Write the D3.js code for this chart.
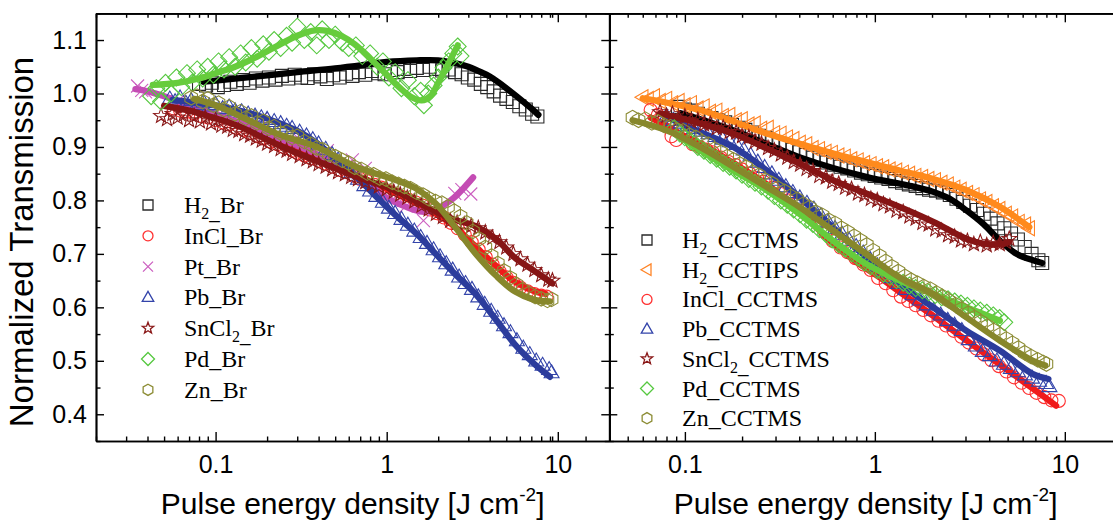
<!DOCTYPE html>
<html><head><meta charset="utf-8">
<script src="https://cdn.jsdelivr.net/npm/d3@7"></script>
<style>body{margin:0;background:#fff}svg{display:block}</style>
</head><body>
<svg id="c" width="1113" height="529"></svg>
<script>
// ---------- axis / tick data ----------
const xMajorTicks = [0.1, 1, 10];
const xMinorTicks = [0.02,0.03,0.04,0.05,0.06,0.07,0.08,0.09,0.2,0.3,0.4,0.5,0.6,0.7,0.8,0.9,2,3,4,5,6,7,8,9,20];
const yMajorTicks = [0.4,0.5,0.6,0.7,0.8,0.9,1.0,1.1];
const yMinorTicks = [0.35,0.45,0.55,0.65,0.75,0.85,0.95,1.05,1.15];
const xTitle = "Pulse energy density [J cm";
const yTitle = "Normalized Transmission";

// ---------- left panel (Br) ----------
const h2BrPts = [[0.080,1.018],[0.088,1.015],[0.095,1.020],[0.103,1.012],[0.112,1.016],[0.122,1.022],[0.133,1.018],[0.145,1.025],[0.158,1.020],[0.172,1.028],[0.188,1.024],[0.205,1.030],[0.224,1.026],[0.244,1.033],[0.266,1.028],[0.29,1.035],[0.316,1.030],[0.345,1.029],[0.376,1.036],[0.41,1.032],[0.447,1.027],[0.487,1.034],[0.531,1.030],[0.579,1.037],[0.631,1.033],[0.688,1.040],[0.75,1.035],[0.818,1.042],[0.892,1.038],[0.972,1.036],[1.06,1.044],[1.16,1.040],[1.26,1.046],[1.37,1.042],[1.5,1.048],[1.63,1.044],[1.78,1.050],[1.94,1.046],[2.11,1.043],[2.3,1.045],[2.51,1.040],[2.74,1.036],[2.98,1.030],[3.25,1.026],[3.55,1.018],[3.87,1.012],[4.22,1.004],[4.6,0.996],[5.01,0.990],[5.46,0.984],[5.96,0.976],[6.5,0.970],[7.08,0.962],[7.6,0.957]];
const h2BrFit = [[0.085,1.022],[0.1,1.024],[0.13,1.028],[0.2,1.034],[0.3,1.040],[0.5,1.047],[0.8,1.055],[1.0,1.059],[1.5,1.062],[2.0,1.062],[2.5,1.057],[3.0,1.050],[3.5,1.041],[4.0,1.032],[4.5,1.021],[5.0,1.010],[6.0,0.990],[7.0,0.972],[7.7,0.960]];

const inclBrPts = [[0.057,0.972],[0.062,0.968],[0.068,0.966],[0.075,0.962],[0.082,0.958],[0.09,0.955],[0.1,0.950],[0.11,0.946],[0.12,0.942],[0.132,0.936],[0.145,0.932],[0.16,0.926],[0.175,0.920],[0.19,0.916],[0.21,0.910],[0.23,0.905],[0.25,0.900],[0.28,0.893],[0.3,0.889],[0.33,0.884],[0.36,0.879],[0.4,0.874],[0.44,0.869],[0.48,0.863],[0.53,0.857],[0.58,0.853],[0.64,0.846],[0.7,0.840],[0.77,0.836],[0.85,0.829],[0.93,0.824],[1.02,0.818],[1.12,0.812],[1.23,0.807],[1.35,0.801],[1.48,0.796],[1.63,0.790],[1.79,0.783],[1.97,0.776],[2.16,0.768],[2.37,0.758],[2.6,0.748],[2.86,0.736],[3.14,0.722],[3.45,0.708],[3.79,0.694],[4.16,0.680],[4.57,0.667],[5.02,0.656],[5.51,0.646],[6.05,0.637],[6.65,0.630],[7.3,0.625],[8.0,0.622],[8.6,0.620]];
const inclBrFit = [[0.055,0.975],[0.08,0.966],[0.134,0.944],[0.228,0.913],[0.389,0.882],[0.66,0.848],[1.13,0.813],[1.92,0.776],[2.5,0.751],[3.3,0.714],[4.4,0.676],[5.6,0.648],[7.3,0.630],[8.5,0.625]];

const ptBrPts = [[0.035,1.014],[0.037,1.006],[0.039,1.003],[0.06,0.985],[0.09,0.970],[0.185,0.953],[0.3,0.918],[0.45,0.893],[0.63,0.876],[0.75,0.860],[1.07,0.800],[1.3,0.790],[1.64,0.762],[2.5,0.813],[2.75,0.820],[3.1,0.812]];
const ptBrFit = [[0.034,1.008],[0.04,1.004],[0.05,0.995],[0.07,0.978],[0.1,0.962],[0.2,0.925],[0.4,0.885],[0.7,0.843],[1.0,0.805],[1.3,0.788],[1.6,0.779],[1.9,0.782],[2.2,0.793],[2.5,0.806],[2.8,0.822],[3.2,0.843]];

const pbBrPts = [[0.054,0.990],[0.058,0.985],[0.062,0.992],[0.067,0.982],[0.072,0.987],[0.078,0.980],[0.085,0.984],[0.092,0.977],[0.1,0.980],[0.11,0.972],[0.12,0.975],[0.13,0.968],[0.142,0.966],[0.155,0.962],[0.17,0.958],[0.185,0.955],[0.2,0.952],[0.22,0.948],[0.24,0.944],[0.26,0.939],[0.28,0.935],[0.31,0.928],[0.34,0.921],[0.37,0.914],[0.4,0.906],[0.44,0.896],[0.48,0.886],[0.52,0.876],[0.57,0.864],[0.62,0.852],[0.68,0.840],[0.74,0.828],[0.8,0.818],[0.87,0.808],[0.95,0.797],[1.03,0.786],[1.12,0.776],[1.22,0.765],[1.33,0.754],[1.45,0.743],[1.58,0.731],[1.72,0.720],[1.88,0.708],[2.05,0.695],[2.23,0.682],[2.43,0.670],[2.65,0.657],[2.89,0.645],[3.15,0.634],[3.43,0.620],[3.74,0.606],[4.08,0.593],[4.45,0.580],[4.85,0.566],[5.29,0.553],[5.77,0.538],[6.29,0.524],[6.86,0.512],[7.48,0.500],[8.15,0.492],[8.9,0.484],[9.2,0.478]];
const pbBrFit = [[0.056,0.988],[0.08,0.982],[0.1,0.978],[0.134,0.969],[0.2,0.953],[0.3,0.930],[0.4,0.905],[0.5,0.878],[0.66,0.845],[0.87,0.807],[1.13,0.772],[1.5,0.737],[1.92,0.701],[2.5,0.663],[3.3,0.625],[4.4,0.575],[5.6,0.531],[7.3,0.494],[9.0,0.470]];

const snBrPts = [[0.048,0.958],[0.052,0.952],[0.056,0.962],[0.06,0.955],[0.065,0.960],[0.07,0.950],[0.075,0.958],[0.081,0.948],[0.087,0.955],[0.094,0.944],[0.1,0.950],[0.108,0.940],[0.117,0.938],[0.126,0.932],[0.136,0.930],[0.147,0.924],[0.159,0.921],[0.172,0.916],[0.186,0.912],[0.2,0.906],[0.22,0.902],[0.24,0.896],[0.26,0.893],[0.28,0.887],[0.31,0.883],[0.34,0.877],[0.37,0.873],[0.4,0.868],[0.44,0.863],[0.48,0.858],[0.52,0.853],[0.57,0.849],[0.62,0.844],[0.68,0.840],[0.75,0.834],[0.82,0.830],[0.9,0.826],[1.0,0.821],[1.1,0.816],[1.2,0.811],[1.32,0.805],[1.45,0.798],[1.6,0.790],[1.76,0.783],[1.94,0.775],[2.13,0.769],[2.35,0.762],[2.58,0.758],[2.84,0.755],[3.12,0.752],[3.43,0.748],[3.77,0.740],[4.15,0.730],[4.56,0.722],[5.0,0.712],[5.5,0.700],[6.05,0.690],[6.65,0.680],[7.3,0.670],[8.0,0.660],[8.8,0.652],[9.3,0.650]];
const snBrFit = [[0.05,0.977],[0.07,0.968],[0.09,0.958],[0.134,0.940],[0.228,0.905],[0.389,0.874],[0.66,0.845],[1.13,0.818],[1.92,0.780],[2.5,0.764],[3.3,0.752],[4.4,0.727],[5.6,0.693],[7.3,0.668],[9.3,0.645]];

const pdBrPts = [[0.042,0.995],[0.045,1.010],[0.048,0.985],[0.051,1.020],[0.055,1.000],[0.059,1.030],[0.063,1.012],[0.068,1.038],[0.073,1.020],[0.078,1.045],[0.084,1.028],[0.09,1.050],[0.097,1.035],[0.104,1.060],[0.112,1.045],[0.12,1.068],[0.13,1.050],[0.14,1.075],[0.15,1.058],[0.162,1.085],[0.175,1.065],[0.19,1.092],[0.205,1.078],[0.22,1.100],[0.24,1.085],[0.26,1.108],[0.28,1.095],[0.3,1.125],[0.33,1.100],[0.36,1.115],[0.39,1.090],[0.42,1.120],[0.46,1.100],[0.5,1.110],[0.55,1.095],[0.6,1.085],[0.66,1.090],[0.72,1.070],[0.8,1.075],[0.88,1.050],[0.95,1.060],[1.03,1.030],[1.12,1.040],[1.22,1.010],[1.33,1.025],[1.45,0.995],[1.58,1.005],[1.65,0.978],[1.75,1.000],[1.88,1.015],[2.0,1.030],[2.15,1.048],[2.3,1.060],[2.45,1.075],[2.6,1.088],[2.7,1.070]];
const pdBrFit = [[0.043,1.016],[0.06,1.020],[0.08,1.028],[0.1,1.038],[0.13,1.050],[0.17,1.067],[0.22,1.086],[0.3,1.108],[0.38,1.118],[0.45,1.117],[0.55,1.107],[0.65,1.092],[0.8,1.066],[1.0,1.035],[1.2,1.010],[1.4,0.993],[1.6,0.987],[1.8,0.995],[2.0,1.020],[2.2,1.045],[2.4,1.068],[2.6,1.090]];

const znBrPts = [[0.072,0.992],[0.078,0.995],[0.084,0.985],[0.09,0.990],[0.097,0.978],[0.104,0.982],[0.112,0.970],[0.12,0.975],[0.13,0.962],[0.14,0.966],[0.15,0.954],[0.162,0.958],[0.175,0.945],[0.19,0.948],[0.205,0.935],[0.22,0.938],[0.24,0.926],[0.26,0.928],[0.28,0.918],[0.3,0.920],[0.33,0.910],[0.36,0.905],[0.39,0.898],[0.42,0.895],[0.46,0.886],[0.5,0.882],[0.55,0.875],[0.6,0.870],[0.65,0.862],[0.71,0.858],[0.77,0.851],[0.84,0.848],[0.91,0.842],[0.99,0.840],[1.08,0.834],[1.17,0.830],[1.27,0.826],[1.38,0.822],[1.5,0.815],[1.63,0.810],[1.77,0.803],[1.93,0.798],[2.1,0.795],[2.28,0.788],[2.48,0.780],[2.7,0.770],[2.93,0.758],[3.19,0.742],[3.47,0.728],[3.77,0.712],[4.1,0.696],[4.46,0.682],[4.85,0.668],[5.27,0.655],[5.73,0.643],[6.23,0.633],[6.78,0.626],[7.37,0.620],[8.0,0.616],[8.7,0.613],[9.2,0.615]];
const znBrFit = [[0.075,0.990],[0.1,0.978],[0.134,0.960],[0.228,0.925],[0.389,0.900],[0.66,0.863],[1.13,0.838],[1.47,0.823],[1.92,0.795],[2.5,0.751],[3.3,0.701],[4.4,0.658],[5.6,0.630],[7.3,0.614],[9.0,0.611]];

// ---------- right panel (CCTMS) ----------
const h2CctmsPts = [[0.092,0.975],[0.1,0.970],[0.108,0.968],[0.117,0.962],[0.127,0.958],[0.138,0.954],[0.15,0.950],[0.163,0.946],[0.177,0.941],[0.192,0.936],[0.208,0.932],[0.226,0.927],[0.245,0.921],[0.266,0.917],[0.289,0.911],[0.314,0.906],[0.341,0.901],[0.37,0.895],[0.402,0.890],[0.436,0.885],[0.474,0.880],[0.515,0.876],[0.559,0.871],[0.607,0.867],[0.66,0.863],[0.716,0.860],[0.778,0.856],[0.845,0.852],[0.918,0.849],[0.997,0.846],[1.08,0.843],[1.18,0.840],[1.28,0.836],[1.39,0.833],[1.51,0.830],[1.64,0.827],[1.78,0.823],[1.93,0.820],[2.1,0.818],[2.28,0.815],[2.48,0.810],[2.69,0.803],[2.92,0.797],[3.17,0.790],[3.45,0.782],[3.74,0.775],[4.07,0.766],[4.42,0.757],[4.8,0.748],[5.21,0.738],[5.66,0.727],[6.15,0.713],[6.68,0.700],[7.26,0.688],[7.6,0.683]];
const h2CctmsFit = [[0.095,0.963],[0.18,0.931],[0.4,0.881],[0.9,0.844],[1.5,0.828],[2.03,0.816],[2.48,0.803],[3.04,0.781],[3.72,0.756],[4.55,0.725],[5.57,0.700],[6.8,0.688],[7.6,0.683]];

const h2CctipsPts = [[0.06,0.993],[0.064,0.990],[0.069,0.995],[0.074,0.986],[0.08,0.990],[0.086,0.982],[0.093,0.986],[0.1,0.978],[0.108,0.982],[0.117,0.972],[0.126,0.976],[0.136,0.966],[0.147,0.968],[0.159,0.958],[0.172,0.960],[0.186,0.950],[0.2,0.952],[0.217,0.942],[0.234,0.944],[0.253,0.934],[0.274,0.936],[0.296,0.926],[0.32,0.925],[0.346,0.918],[0.374,0.915],[0.404,0.908],[0.437,0.905],[0.472,0.898],[0.51,0.896],[0.552,0.891],[0.596,0.889],[0.645,0.884],[0.697,0.882],[0.754,0.877],[0.815,0.875],[0.881,0.870],[0.953,0.868],[1.03,0.864],[1.11,0.862],[1.2,0.858],[1.3,0.856],[1.41,0.852],[1.52,0.850],[1.64,0.846],[1.78,0.844],[1.92,0.840],[2.08,0.838],[2.25,0.833],[2.43,0.830],[2.63,0.824],[2.84,0.820],[3.07,0.814],[3.32,0.810],[3.59,0.802],[3.88,0.797],[4.2,0.789],[4.54,0.784],[4.91,0.775],[5.3,0.770],[5.74,0.760],[6.2,0.755],[6.5,0.748]];
const h2CctipsFit = [[0.06,0.991],[0.12,0.969],[0.27,0.925],[0.6,0.888],[1.35,0.856],[2.03,0.840],[3.04,0.819],[4.55,0.788],[6.5,0.750]];

const inclCctmsPts = [[0.066,0.969],[0.072,0.960],[0.078,0.950],[0.085,0.920],[0.09,0.913],[0.1,0.920],[0.11,0.905],[0.12,0.900],[0.13,0.895],[0.14,0.890],[0.155,0.880],[0.17,0.872],[0.185,0.866],[0.2,0.858],[0.22,0.850],[0.24,0.842],[0.26,0.835],[0.29,0.824],[0.32,0.812],[0.35,0.800],[0.38,0.792],[0.42,0.780],[0.46,0.768],[0.5,0.757],[0.55,0.740],[0.6,0.724],[0.66,0.712],[0.72,0.703],[0.79,0.692],[0.87,0.680],[0.95,0.670],[1.04,0.655],[1.14,0.645],[1.25,0.632],[1.37,0.620],[1.5,0.612],[1.64,0.604],[1.8,0.595],[1.97,0.585],[2.16,0.575],[2.37,0.566],[2.6,0.556],[2.85,0.545],[3.12,0.534],[3.42,0.523],[3.75,0.512],[4.11,0.501],[4.5,0.490],[4.93,0.480],[5.4,0.469],[5.92,0.459],[6.49,0.449],[7.1,0.440],[7.8,0.432],[8.5,0.426],[9.3,0.425]];
const inclCctmsFit = [[0.066,0.955],[0.08,0.940],[0.1,0.920],[0.13,0.900],[0.18,0.870],[0.27,0.830],[0.4,0.780],[0.6,0.720],[0.8,0.685],[1.06,0.656],[1.35,0.629],[2.03,0.584],[3.04,0.538],[4.55,0.493],[6.8,0.448],[9.0,0.416]];

const pbCctmsPts = [[0.08,0.958],[0.087,0.950],[0.095,0.945],[0.103,0.940],[0.112,0.935],[0.122,0.930],[0.133,0.925],[0.145,0.920],[0.158,0.915],[0.172,0.910],[0.187,0.905],[0.204,0.895],[0.222,0.885],[0.242,0.872],[0.263,0.862],[0.287,0.850],[0.312,0.838],[0.34,0.826],[0.37,0.815],[0.403,0.805],[0.439,0.795],[0.478,0.784],[0.52,0.772],[0.567,0.760],[0.617,0.748],[0.672,0.737],[0.732,0.726],[0.797,0.714],[0.868,0.702],[0.945,0.690],[1.03,0.678],[1.12,0.667],[1.22,0.656],[1.33,0.645],[1.45,0.634],[1.58,0.624],[1.72,0.614],[1.87,0.605],[2.04,0.595],[2.22,0.586],[2.42,0.576],[2.63,0.567],[2.87,0.557],[3.12,0.540],[3.4,0.528],[3.7,0.518],[4.03,0.510],[4.39,0.500],[4.78,0.494],[5.2,0.486],[5.67,0.480],[6.17,0.474],[6.72,0.468],[7.32,0.462],[7.97,0.458],[8.3,0.452]];
const pbCctmsFit = [[0.08,0.956],[0.12,0.928],[0.18,0.900],[0.27,0.856],[0.4,0.806],[0.6,0.750],[0.9,0.694],[1.35,0.644],[2.03,0.600],[3.04,0.556],[4.55,0.519],[6.8,0.475],[8.2,0.466]];

const snCctmsPts = [[0.074,0.965],[0.08,0.958],[0.086,0.962],[0.093,0.953],[0.1,0.957],[0.108,0.948],[0.117,0.950],[0.126,0.942],[0.136,0.943],[0.147,0.935],[0.159,0.936],[0.172,0.928],[0.186,0.927],[0.2,0.920],[0.217,0.918],[0.234,0.910],[0.253,0.906],[0.274,0.898],[0.296,0.893],[0.32,0.886],[0.346,0.880],[0.374,0.872],[0.404,0.867],[0.437,0.859],[0.472,0.855],[0.51,0.846],[0.552,0.843],[0.596,0.835],[0.645,0.831],[0.697,0.824],[0.754,0.821],[0.815,0.813],[0.881,0.810],[0.953,0.803],[1.03,0.800],[1.11,0.793],[1.2,0.789],[1.3,0.781],[1.41,0.778],[1.52,0.770],[1.64,0.766],[1.78,0.758],[1.92,0.755],[2.08,0.746],[2.25,0.743],[2.43,0.735],[2.63,0.732],[2.84,0.725],[3.07,0.724],[3.32,0.718],[3.59,0.722],[3.88,0.716],[4.2,0.720],[4.54,0.718],[4.9,0.722],[5.1,0.728]];
const snCctmsFit = [[0.074,0.963],[0.12,0.944],[0.18,0.925],[0.27,0.897],[0.4,0.869],[0.6,0.838],[0.9,0.813],[1.35,0.788],[2.03,0.760],[3.04,0.728],[3.72,0.719],[4.55,0.718],[5.1,0.722]];

const pdCctmsPts = [[0.088,0.935],[0.094,0.925],[0.1,0.918],[0.108,0.910],[0.117,0.900],[0.126,0.893],[0.136,0.885],[0.147,0.878],[0.159,0.870],[0.172,0.863],[0.186,0.856],[0.2,0.848],[0.217,0.840],[0.234,0.833],[0.253,0.826],[0.274,0.818],[0.296,0.808],[0.32,0.800],[0.346,0.792],[0.374,0.783],[0.404,0.774],[0.437,0.764],[0.472,0.756],[0.51,0.746],[0.552,0.737],[0.596,0.727],[0.645,0.718],[0.697,0.710],[0.754,0.701],[0.815,0.693],[0.881,0.684],[0.953,0.677],[1.03,0.670],[1.11,0.663],[1.2,0.657],[1.3,0.651],[1.41,0.646],[1.52,0.641],[1.64,0.636],[1.78,0.632],[1.92,0.628],[2.08,0.623],[2.25,0.619],[2.43,0.615],[2.63,0.611],[2.84,0.607],[3.07,0.603],[3.32,0.598],[3.59,0.594],[3.88,0.590],[4.2,0.585],[4.54,0.580],[4.8,0.572]];
const pdCctmsFit = [[0.09,0.925],[0.12,0.894],[0.18,0.856],[0.27,0.819],[0.4,0.775],[0.6,0.725],[0.9,0.681],[1.35,0.650],[2.03,0.625],[3.04,0.600],[4.55,0.575]];

const znCctmsPts = [[0.053,0.955],[0.057,0.950],[0.062,0.952],[0.067,0.945],[0.072,0.947],[0.078,0.940],[0.084,0.938],[0.091,0.932],[0.098,0.930],[0.106,0.922],[0.114,0.918],[0.123,0.910],[0.133,0.905],[0.143,0.896],[0.155,0.890],[0.167,0.882],[0.18,0.876],[0.195,0.868],[0.21,0.862],[0.227,0.853],[0.245,0.847],[0.265,0.838],[0.286,0.832],[0.309,0.823],[0.334,0.817],[0.36,0.808],[0.389,0.802],[0.42,0.793],[0.454,0.787],[0.49,0.778],[0.53,0.772],[0.572,0.763],[0.618,0.757],[0.667,0.748],[0.72,0.741],[0.778,0.733],[0.84,0.725],[0.907,0.717],[0.98,0.706],[1.06,0.696],[1.14,0.686],[1.23,0.676],[1.33,0.667],[1.44,0.658],[1.55,0.651],[1.68,0.645],[1.81,0.639],[1.96,0.634],[2.11,0.627],[2.28,0.620],[2.46,0.612],[2.66,0.605],[2.87,0.597],[3.1,0.589],[3.35,0.581],[3.62,0.573],[3.91,0.565],[4.22,0.557],[4.56,0.549],[4.92,0.541],[5.3,0.533],[5.7,0.524],[6.15,0.515],[6.65,0.508],[7.2,0.502],[7.7,0.497],[8.0,0.494]];
const znCctmsFit = [[0.053,0.950],[0.08,0.931],[0.12,0.900],[0.18,0.863],[0.27,0.825],[0.4,0.788],[0.6,0.744],[0.9,0.700],[1.35,0.656],[2.03,0.625],[3.04,0.581],[4.55,0.538],[6.8,0.500],[7.9,0.491]];

// ---------- series definitions ----------
const leftSeries = [
  {name:"H", sub:"2", rest:"Br", shape:"square", color:"#2a2a2a", line:"#000000", pts:h2BrPts, fit:h2BrFit},
  {name:"InCl_Br", shape:"circle", color:"#ff3030", line:"#f01a1a", pts:inclBrPts, fit:inclBrFit},
  {name:"Pt_Br", shape:"x", color:"#cc5fc0", line:"#c44cb4", pts:ptBrPts, fit:ptBrFit},
  {name:"Pb_Br", shape:"triUp", color:"#3344aa", line:"#2c3c9c", pts:pbBrPts, fit:pbBrFit},
  {name:"SnCl", sub:"2", rest:"Br", shape:"star", color:"#8b1a1a", line:"#861515", pts:snBrPts, fit:snBrFit},
  {name:"Pd_Br", shape:"diamond", color:"#55c83f", line:"#66cc3c", pts:pdBrPts, fit:pdBrFit},
  {name:"Zn_Br", shape:"hex", color:"#8c8c34", line:"#87872b", pts:znBrPts, fit:znBrFit}
];
const rightSeries = [
  {name:"H", sub:"2", rest:"CCTMS", shape:"square", color:"#2a2a2a", line:"#000000", pts:h2CctmsPts, fit:h2CctmsFit},
  {name:"H", sub:"2", rest:"CCTIPS", shape:"triLeft", color:"#ff8426", line:"#ff8a1c", pts:h2CctipsPts, fit:h2CctipsFit},
  {name:"InCl_CCTMS", shape:"circle", color:"#ff3030", line:"#f01a1a", pts:inclCctmsPts, fit:inclCctmsFit},
  {name:"Pb_CCTMS", shape:"triUp", color:"#3344aa", line:"#2c3c9c", pts:pbCctmsPts, fit:pbCctmsFit},
  {name:"SnCl", sub:"2", rest:"CCTMS", shape:"star", color:"#8b1a1a", line:"#861515", pts:snCctmsPts, fit:snCctmsFit},
  {name:"Pd_CCTMS", shape:"diamond", color:"#55c83f", line:"#66cc3c", pts:pdCctmsPts, fit:pdCctmsFit},
  {name:"Zn_CCTMS", shape:"hex", color:"#8c8c34", line:"#87872b", pts:znCctmsPts, fit:znCctmsFit}
];

// ---------- layout ----------
const svg = d3.select("#c");
const plotTop = 13.3, plotBottom = 441;
const y = d3.scaleLinear().domain([0.35,1.15]).range([plotBottom, plotTop]);
const panels = [
  {x: d3.scaleLog().domain([0.02,20]).range([96,609.3]), series:leftSeries, labels:true,
   legend:{mx:148, tx:184, y0:205, dy:30.8}},
  {x: d3.scaleLog().domain([0.04,20]).range([609.3,1122]), series:rightSeries, labels:false,
   legend:{mx:647, tx:682, y0:240, dy:29.7}}
];

function markerPath(shape, r){
  switch(shape){
    case "square": return `M${-r},${-r}h${2*r}v${2*r}h${-2*r}Z`;
    case "circle": return `M${r},0A${r},${r},0,1,1,${-r},0A${r},${r},0,1,1,${r},0Z`;
    case "x": return `M${-r},${-r}L${r},${r}M${-r},${r}L${r},${-r}`;
    case "triUp": return `M0,${-r*1.2}L${r*1.15},${r*0.8}L${-r*1.15},${r*0.8}Z`;
    case "triLeft": return `M${-r*1.2},0L${r*0.8},${-r*1.15}L${r*0.8},${r*1.15}Z`;
    case "diamond": { const a=r*1.3; return `M0,${-a}L${a},0L0,${a}L${-a},0Z`; }
    case "hex": { let p=""; for(let i=0;i<6;i++){const t=Math.PI/3*i - Math.PI/2; p+=(i?"L":"M")+(r*1.12*Math.cos(t)).toFixed(2)+","+(r*1.12*Math.sin(t)).toFixed(2);} return p+"Z"; }
    case "star": { let p=""; for(let i=0;i<10;i++){const rr=i%2?r*0.5:r*1.2; const t=Math.PI/5*i - Math.PI/2; p+=(i?"L":"M")+(rr*Math.cos(t)).toFixed(2)+","+(rr*Math.sin(t)).toFixed(2);} return p+"Z"; }
  }
}

const fmtY = d3.format(".1f");
const fmtX = d => d >= 1 ? d3.format("d")(d) : String(d);

panels.forEach((P, pi) => {
  const x = P.x;
  const [x0, x1] = x.range();
  const g = svg.append("g");
  const clipId = "clip"+pi;
  svg.append("clipPath").attr("id", clipId).append("rect")
     .attr("x", x0).attr("y", plotTop).attr("width", x1-x0).attr("height", plotBottom-plotTop);
  const plot = g.append("g").attr("clip-path", `url(#${clipId})`);

  const line = d3.line().x(d => x(d[0])).y(d => y(d[1])).curve(d3.curveCatmullRom.alpha(0.5));
  P.series.forEach(s => {
    plot.append("g").selectAll("path").data(s.pts).join("path")
      .attr("transform", d => `translate(${x(d[0])},${y(d[1])})`)
      .attr("d", markerPath(s.shape, 6.5))
      .attr("fill", "none").attr("stroke", s.color).attr("stroke-width", 1.1);
    plot.append("path").datum(s.fit).attr("d", line)
      .attr("fill", "none").attr("stroke", s.line).attr("stroke-width", 6.3)
      .attr("stroke-linecap", "round").attr("stroke-linejoin", "round");
  });

  // axes
  const axG = g.append("g").attr("font-family", "'Liberation Sans', Arial, sans-serif");
  const mkAxis = (gen, tr, ticks, size, labels, fmt) => {
    const a = gen.tickValues(ticks).tickSize(-size).tickSizeOuter(0);
    if (labels) a.tickFormat(fmt); else a.tickFormat("");
    const sel = axG.append("g").attr("transform", tr).call(a);
    sel.select(".domain").attr("stroke-width", 1.7);
    sel.selectAll(".tick line").attr("stroke-width", 1.4);
    return sel;
  };
  const bx = mkAxis(d3.axisBottom(x).tickPadding(14), `translate(0,${plotBottom})`, xMajorTicks, 9, true, fmtX);
  bx.selectAll("text").attr("font-size", 25).attr("fill", "#000");
  mkAxis(d3.axisBottom(x), `translate(0,${plotBottom})`, xMinorTicks, 4.5, false);
  mkAxis(d3.axisTop(x), `translate(0,${plotTop})`, xMajorTicks, 9, false);
  mkAxis(d3.axisTop(x), `translate(0,${plotTop})`, xMinorTicks, 4.5, false);
  const ly = mkAxis(d3.axisLeft(y).tickPadding(9), `translate(${x0},0)`, yMajorTicks, 8, P.labels, fmtY);
  ly.selectAll("text").attr("font-size", 25).attr("fill", "#000");
  mkAxis(d3.axisLeft(y), `translate(${x0},0)`, yMinorTicks, 4.5, false);
  mkAxis(d3.axisRight(y), `translate(${x1},0)`, yMajorTicks, 8, false);
  mkAxis(d3.axisRight(y), `translate(${x1},0)`, yMinorTicks, 4.5, false);

  // x title
  const t = g.append("text").attr("x", (x0+x1)/2).attr("y", 514).attr("text-anchor", "middle")
    .attr("font-family", "'Liberation Sans', Arial, sans-serif").attr("font-size", 30).attr("fill", "#000");
  t.append("tspan").text(xTitle);
  t.append("tspan").attr("font-size", 19).attr("dy", -13).text("-2");
  t.append("tspan").attr("dy", 13).text("]");

  // legend
  const L = P.legend;
  P.series.forEach((s, i) => {
    const cy = L.y0 + i*L.dy;
    g.append("path").attr("transform", `translate(${L.mx},${cy})`)
      .attr("d", markerPath(s.shape, 5)).attr("fill", "none")
      .attr("stroke", s.color).attr("stroke-width", 1.3);
    const tx = g.append("text").attr("x", L.tx).attr("y", cy + 8)
      .attr("font-family", "'Liberation Serif', 'Times New Roman', serif").attr("font-size", 24).attr("fill", "#000");
    tx.append("tspan").text(s.name);
    if (s.sub) {
      tx.append("tspan").attr("font-size", 16).attr("dy", 6).text(s.sub);
      tx.append("tspan").attr("font-size", 21).attr("dy", 0).text("_");
      tx.append("tspan").attr("dy", -6).text(s.rest);
    }
  });
});

// y title
svg.append("text").attr("transform", "translate(33,242) rotate(-90)").attr("text-anchor", "middle")
  .attr("font-family", "'Liberation Sans', Arial, sans-serif").attr("font-size", 33).attr("fill", "#000")
  .text(yTitle);
</script>
</body></html>
